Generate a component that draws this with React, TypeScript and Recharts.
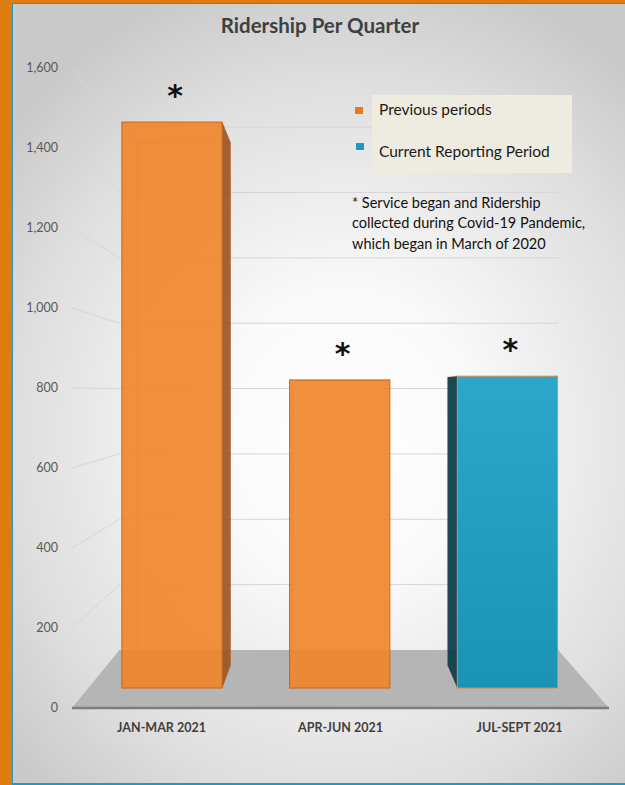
import React from 'react'
import { Bar, BarChart, CartesianGrid, LabelList, Legend, XAxis, YAxis } from 'recharts'

const quarters = ['JAN-MAR 2021', 'APR-JUN 2021', 'JUL-SEPT 2021']
const riders = [1510, 822, 832]
const periods = ['Previous periods', 'Previous periods', 'Current Reporting Period']
const notes = ['*', '*', '*']
const yTicks = [0, 200, 400, 600, 800, 1000, 1200, 1400, 1600]
const legendItems = ['Previous periods', 'Current Reporting Period']
const footnote = [
  '* Service began and Ridership',
  'collected during Covid-19 Pandemic,',
  'which began in March of 2020',
]

const data = quarters.map((q, i) => ({
  quarter: q,
  riders: riders[i],
  period: periods[i],
  note: notes[i],
}))

const FONT = 'Lato, "Open Sans", sans-serif'
const W = 625
const H = 785
const MARGIN = { top: 68, right: 16, bottom: 47, left: 12 }
const XAXIS_H = 30
const PLOT_BOTTOM = H - MARGIN.bottom - XAXIS_H

// fake perspective: vanishing point and depth scales
const VX = 331
const VY = 391
const S_WALL = 0.817
const S_FRONT = 0.937
const S_BACK = 0.865

const proj = (x: number, y: number, s: number) => [VX + (x - VX) * s, VY + (y - VY) * s]

const colors: { [k: string]: { face: string; side: string; edge: string } } = {
  'Previous periods': { face: '#f0852b', side: '#9b5624', edge: '#c9651a' },
  'Current Reporting Period': { face: '#23a0c6', side: '#0e3e4b', edge: '#d88a4c' },
}
const legendColors: { [k: string]: string } = {
  'Previous periods': '#e57b17',
  'Current Reporting Period': '#1f98c2',
}

const WallLine = (props: any) => {
  const { x1, x2, y1, index } = props
  const [lx, ly] = proj(x1, y1, S_WALL)
  const [rx] = proj(x2, y1, S_WALL)
  if (Math.abs(y1 - PLOT_BOTTOM) < 1) {
    return (
      <polygon
        key={`floor-${index}`}
        points={`${x1},${y1} ${x2},${y1} ${rx},${ly} ${lx},${ly}`}
        fill="#b5b5b5"
      />
    )
  }
  return (
    <path
      key={`wall-${index}`}
      d={`M${x1},${y1}L${lx},${ly}L${rx},${ly}`}
      fill="none"
      stroke="#d6d6d6"
      strokeWidth={1}
    />
  )
}

const Box3D = (props: any) => {
  const { x, y, width, height, payload, index } = props
  if (!height) return null
  const period = payload?.period ?? periods[index]
  const c = colors[period]
  const current = period === 'Current Reporting Period'
  const [fl, ft] = proj(x, y, S_FRONT)
  const [fr, fb] = proj(x + width, y + height, S_FRONT)
  const [bl, bt] = proj(x, y, S_BACK)
  const [br, bb] = proj(x + width, y + height, S_BACK)
  const gid = `blueFace${index}`
  return (
    <g>
      <defs>
        <linearGradient id={gid} x1="0" y1="0" x2="0" y2="1">
          <stop offset="0%" stopColor="#2ca7cb" />
          <stop offset="100%" stopColor="#1a93b5" />
        </linearGradient>
      </defs>
      <g stroke={c.edge} strokeOpacity={0.55} strokeWidth={1} fill="none">
        <path d={`M${bl},${bt}L${br},${bt}L${br},${bb}L${bl},${bb}Z`} />
        <path d={`M${fl},${ft}L${bl},${bt}M${fr},${ft}L${br},${bt}M${fl},${fb}L${bl},${bb}M${fr},${fb}L${br},${bb}`} />
      </g>
      {br > fr && (
        <polygon points={`${fr},${ft} ${br},${bt} ${br},${bb} ${fr},${fb}`} fill={c.side} fillOpacity={0.92} />
      )}
      {bl < fl && (
        <polygon points={`${fl},${ft} ${bl},${bt} ${bl},${bb} ${fl},${fb}`} fill={c.side} fillOpacity={0.95} />
      )}
      <rect
        x={fl}
        y={ft}
        width={fr - fl}
        height={fb - ft}
        fill={current ? `url(#${gid})` : c.face}
        fillOpacity={current ? 1 : 0.9}
        stroke={c.edge}
        strokeWidth={1}
      />
    </g>
  )
}

const renderNote = (props: any) => {
  const { x, y, width, value } = props
  const [cx, ty] = proj(x + width / 2, y, S_FRONT)
  return (
    <text
      x={cx + 3}
      y={ty - 16}
      textAnchor="middle"
      fontSize={30}
      fontWeight={700}
      fill="#111"
      fontFamily="DejaVu Sans"
    >
      {value}
    </text>
  )
}

const LegendBox = () => (
  <svg width={265} height={170} style={{ overflow: 'visible' }}>
    <rect x={22} y={0} width={200} height={78} fill="#eeebe0" />
    {legendItems.map((item, i) => (
      <g key={item}>
        <rect x={5 + i} y={12 + i * 36} width={8} height={7} fill={legendColors[item]} />
        <text x={29} y={20 + i * 42} fontSize={15.5} fill="#1a1a1a" fontFamily={FONT}>
          {item}
        </text>
      </g>
    ))}
    {footnote.map((line, i) => (
      <text key={i} x={2} y={112.5 + i * 20.5} fontSize={14.5} fill="#111" fontFamily={FONT}>
        {line}
      </text>
    ))}
  </svg>
)

export default function App() {
  return (
    <div
      style={{
        position: 'absolute',
        left: 0,
        top: 0,
        width: W,
        height: H,
        background: '#df7c10',
        overflow: 'hidden',
        fontFamily: FONT,
      }}
    >
      <div
        style={{
          position: 'absolute',
          left: 12,
          top: 3,
          right: 0,
          bottom: 0,
          borderLeft: '1px solid #1d9ac4',
          borderTop: '1px solid #1d9ac4',
          borderBottom: '2px solid #1d9ac4',
          background:
            'radial-gradient(ellipse 72% 62% at 54% 56%, #ffffff 0%, #fafafa 30%, #dedede 75%, #c9c9c9 100%)',
        }}
      />
      <div
        style={{
          position: 'absolute',
          left: 0,
          top: 16,
          width: 640,
          textAlign: 'center',
          fontSize: 20.5,
          lineHeight: '18px',
          fontWeight: 700,
          color: '#404040',
        }}
      >
        Ridership Per Quarter
      </div>
      <div style={{ position: 'absolute', left: 0, top: 0 }}>
        <BarChart width={W} height={H} data={data} margin={MARGIN} barCategoryGap="20%">
          <CartesianGrid vertical={false} horizontal={WallLine} />
          <XAxis
            dataKey="quarter"
            height={XAXIS_H}
            axisLine={{ stroke: '#7d7d7d', strokeWidth: 2.5 }}
            tickLine={false}
            tickMargin={9}
            tick={{ fill: '#404040', fontSize: 12.5, fontWeight: 700 }}
          />
          <YAxis
            width={60}
            domain={[0, 1600]}
            ticks={yTicks}
            axisLine={false}
            tickLine={false}
            tickMargin={8}
            tick={{ fill: '#595959', fontSize: 12.5 }}
            tickFormatter={(v) => v.toLocaleString('en-US')}
          />
          <Legend
            layout="horizontal"
            verticalAlign="middle"
            align="center"
            content={LegendBox}
            wrapperStyle={{ position: 'absolute', left: 350, top: 95, width: 265, height: 170 }}
          />
          <Bar dataKey="riders" shape={Box3D} isAnimationActive={false}>
            <LabelList dataKey="note" content={renderNote} />
          </Bar>
        </BarChart>
      </div>
    </div>
  )
}
